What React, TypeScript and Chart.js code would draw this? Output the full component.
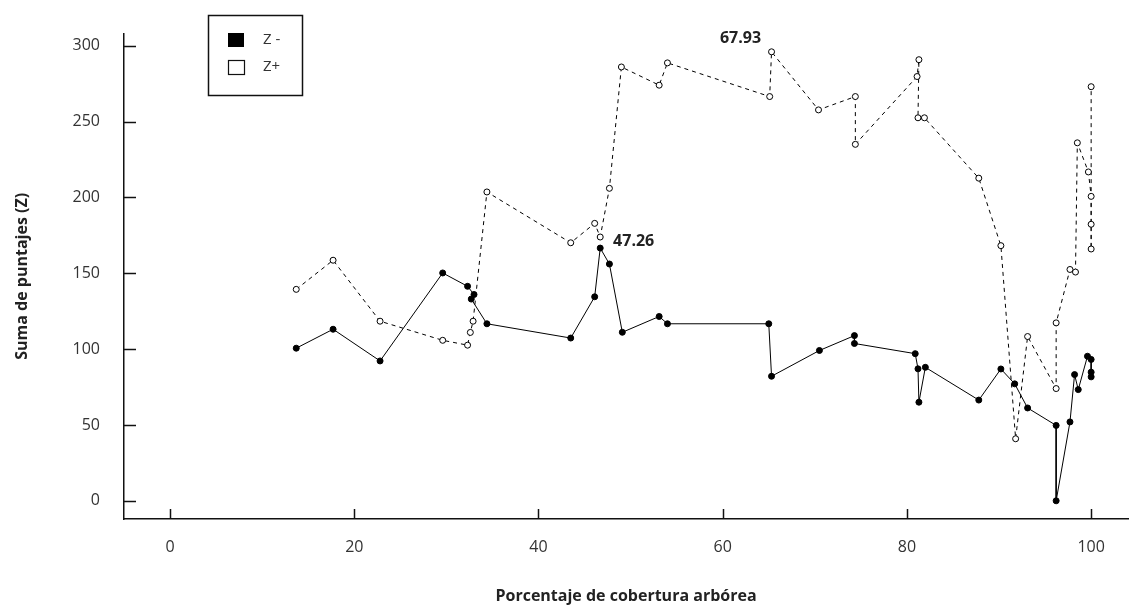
import React, { useEffect, useRef } from "react";
import { Chart, registerables } from "chart.js";

Chart.register(...registerables);

const SERIES_NAMES = ["Z -", "Z+"];

const ZNEG_X = [13.7, 17.7, 22.8, 29.6, 32.3, 33.0, 32.7, 34.4, 43.5, 46.1, 46.7, 47.7, 49.1, 53.1, 54.0, 65.0, 65.3, 70.5, 74.3, 74.3, 80.9, 81.2, 81.3, 82.0, 87.8, 90.2, 91.7, 93.1, 96.2, 96.2, 97.7, 98.2, 98.6, 99.6, 100.0, 100.0, 100.0];
const ZNEG_Y = [100.6, 113.1, 92.2, 150.2, 141.4, 136, 133, 116.7, 107.3, 134.5, 166.6, 156.1, 111.1, 121.5, 116.7, 116.7, 82.1, 99.1, 108.9, 103.7, 97, 87, 65, 88, 66.4, 86.9, 77.1, 61.2, 49.7, 0, 52, 83.2, 73.3, 95.3, 93.2, 84.8, 81.7];

const ZPOS_X = [13.7, 17.7, 22.8, 29.6, 32.3, 32.6, 32.9, 34.4, 43.5, 46.1, 46.7, 47.7, 49.0, 53.1, 54.0, 65.1, 65.3, 70.4, 74.4, 74.4, 81.1, 81.3, 81.2, 81.9, 87.8, 90.2, 91.8, 93.1, 96.2, 96.2, 97.7, 98.3, 98.5, 99.7, 100.0, 100.0, 100.0, 100.0];
const ZPOS_Y = [139.4, 158.6, 118.4, 105.8, 102.6, 111, 118.4, 203.6, 170.1, 182.9, 173.9, 206, 286, 274, 288.7, 266.5, 296, 257.7, 266.5, 235, 279.7, 290.8, 252.5, 252.5, 212.7, 168.2, 40.9, 108.3, 74, 117.3, 152.5, 150.8, 236, 216.8, 200.7, 182.3, 166, 273];

const X_TICKS = [0, 20, 40, 60, 80, 100];
const Y_TICKS = [0, 50, 100, 150, 200, 250, 300];

const NOTE_TEXT = ["47.26", "67.93"];
const NOTE_X = [48.1, 59.7];
const NOTE_Y = [171, 305];

const X_TITLE = "Porcentaje de cobertura arbórea";
const Y_TITLE = "Suma de puntajes (Z)";

export default function App() {
  const ref = useRef<HTMLCanvasElement>(null);

  useEffect(() => {
    if (!ref.current) return;
    const toPts = (xs: number[], ys: number[]) => xs.map((x, i) => ({ x, y: ys[i] }));

    const overlay = {
      id: "overlay",
      afterDraw(chart: any) {
        const { ctx, chartArea } = chart;
        const xs = chart.scales.x;
        const ys = chart.scales.y;
        ctx.save();
        ctx.strokeStyle = "#111";
        ctx.lineWidth = 1.5;
        X_TICKS.forEach((v) => {
          const px = Math.round(xs.getPixelForValue(v)) + 0.5;
          ctx.beginPath();
          ctx.moveTo(px, chartArea.bottom);
          ctx.lineTo(px, chartArea.bottom - 10);
          ctx.stroke();
        });
        Y_TICKS.forEach((v) => {
          const py = Math.round(ys.getPixelForValue(v)) + 0.5;
          ctx.beginPath();
          ctx.moveTo(chartArea.left, py);
          ctx.lineTo(chartArea.left + 12, py);
          ctx.stroke();
        });
        // annotations
        ctx.font = 'bold 16px "Open Sans"';
        ctx.fillStyle = "#222";
        ctx.textBaseline = "middle";
        ctx.textAlign = "left";
        NOTE_TEXT.forEach((t, i) => {
          ctx.fillText(t, xs.getPixelForValue(NOTE_X[i]), ys.getPixelForValue(NOTE_Y[i]));
        });
        // legend
        ctx.lineWidth = 1.5;
        ctx.strokeStyle = "#111";
        ctx.strokeRect(208.5, 15.5, 94, 80);
        ctx.fillStyle = "#000";
        ctx.fillRect(228, 33, 16, 14);
        ctx.lineWidth = 1.2;
        ctx.strokeRect(228.5, 60.5, 16, 14);
        ctx.font = '15px "Open Sans"';
        ctx.fillStyle = "#333";
        ctx.textAlign = "left";
        ctx.fillText(SERIES_NAMES[0], 263, 40);
        ctx.fillText(SERIES_NAMES[1], 263, 67);
        ctx.restore();
      },
    };

    const chart = new Chart(ref.current, {
      type: "scatter",
      data: {
        datasets: [
          {
            label: SERIES_NAMES[0],
            data: toPts(ZNEG_X, ZNEG_Y),
            showLine: true,
            borderColor: "#000",
            borderWidth: 1,
            backgroundColor: "#000",
            pointBackgroundColor: "#000",
            pointBorderColor: "#000",
            pointRadius: 3,
            pointBorderWidth: 1,
          },
          {
            label: SERIES_NAMES[1],
            data: toPts(ZPOS_X, ZPOS_Y),
            showLine: true,
            borderColor: "#000",
            borderWidth: 1,
            borderDash: [4, 4],
            backgroundColor: "#fff",
            pointBackgroundColor: "#fff",
            pointBorderColor: "#000",
            pointRadius: 3,
            pointBorderWidth: 1,
          },
        ],
      },
      options: {
        animation: false,
        responsive: false,
        maintainAspectRatio: false,
        layout: { padding: { top: 9, left: 0, right: 0, bottom: 0 } },
        plugins: {
          legend: { display: false },
          tooltip: { enabled: false },
        },
        scales: {
          x: {
            type: "linear",
            min: -5,
            max: 104,
            afterBuildTicks: (scale: any) => {
              scale.ticks = X_TICKS.map((v) => ({ value: v }));
            },
            afterFit: (scale: any) => {
              scale.height = 90;
            },
            grid: { display: false, drawTicks: false },
            border: { display: true, color: "#111", width: 1.5 },
            ticks: {
              autoSkip: false,
              maxRotation: 0,
              padding: 19,
              color: "#333",
              font: { family: "Open Sans", size: 16 },
            },
            title: {
              display: true,
              text: X_TITLE,
              color: "#222",
              font: { family: "Open Sans", size: 16, weight: "bold" },
              padding: { top: 0, bottom: 3 },
            },
          },
          y: {
            type: "linear",
            min: -12,
            max: 308,
            afterBuildTicks: (scale: any) => {
              scale.ticks = Y_TICKS.map((v) => ({ value: v }));
            },
            afterFit: (scale: any) => {
              scale.width = 124;
            },
            grid: { display: false, drawTicks: false },
            border: { display: true, color: "#111", width: 1.5 },
            ticks: {
              autoSkip: false,
              padding: 24,
              color: "#333",
              font: { family: "Open Sans", size: 16 },
            },
            title: {
              display: true,
              text: Y_TITLE,
              color: "#222",
              font: { family: "Open Sans", size: 16, weight: "bold" },
              padding: { top: 13, bottom: 0 },
            },
          },
        },
      },
      plugins: [overlay],
    });

    return () => chart.destroy();
  }, []);

  return (
    <div style={{ position: "absolute", left: 0, top: 0, width: 1133, height: 609, background: "#fff" }}>
      <canvas ref={ref} width={1133} height={609} />
    </div>
  );
}
